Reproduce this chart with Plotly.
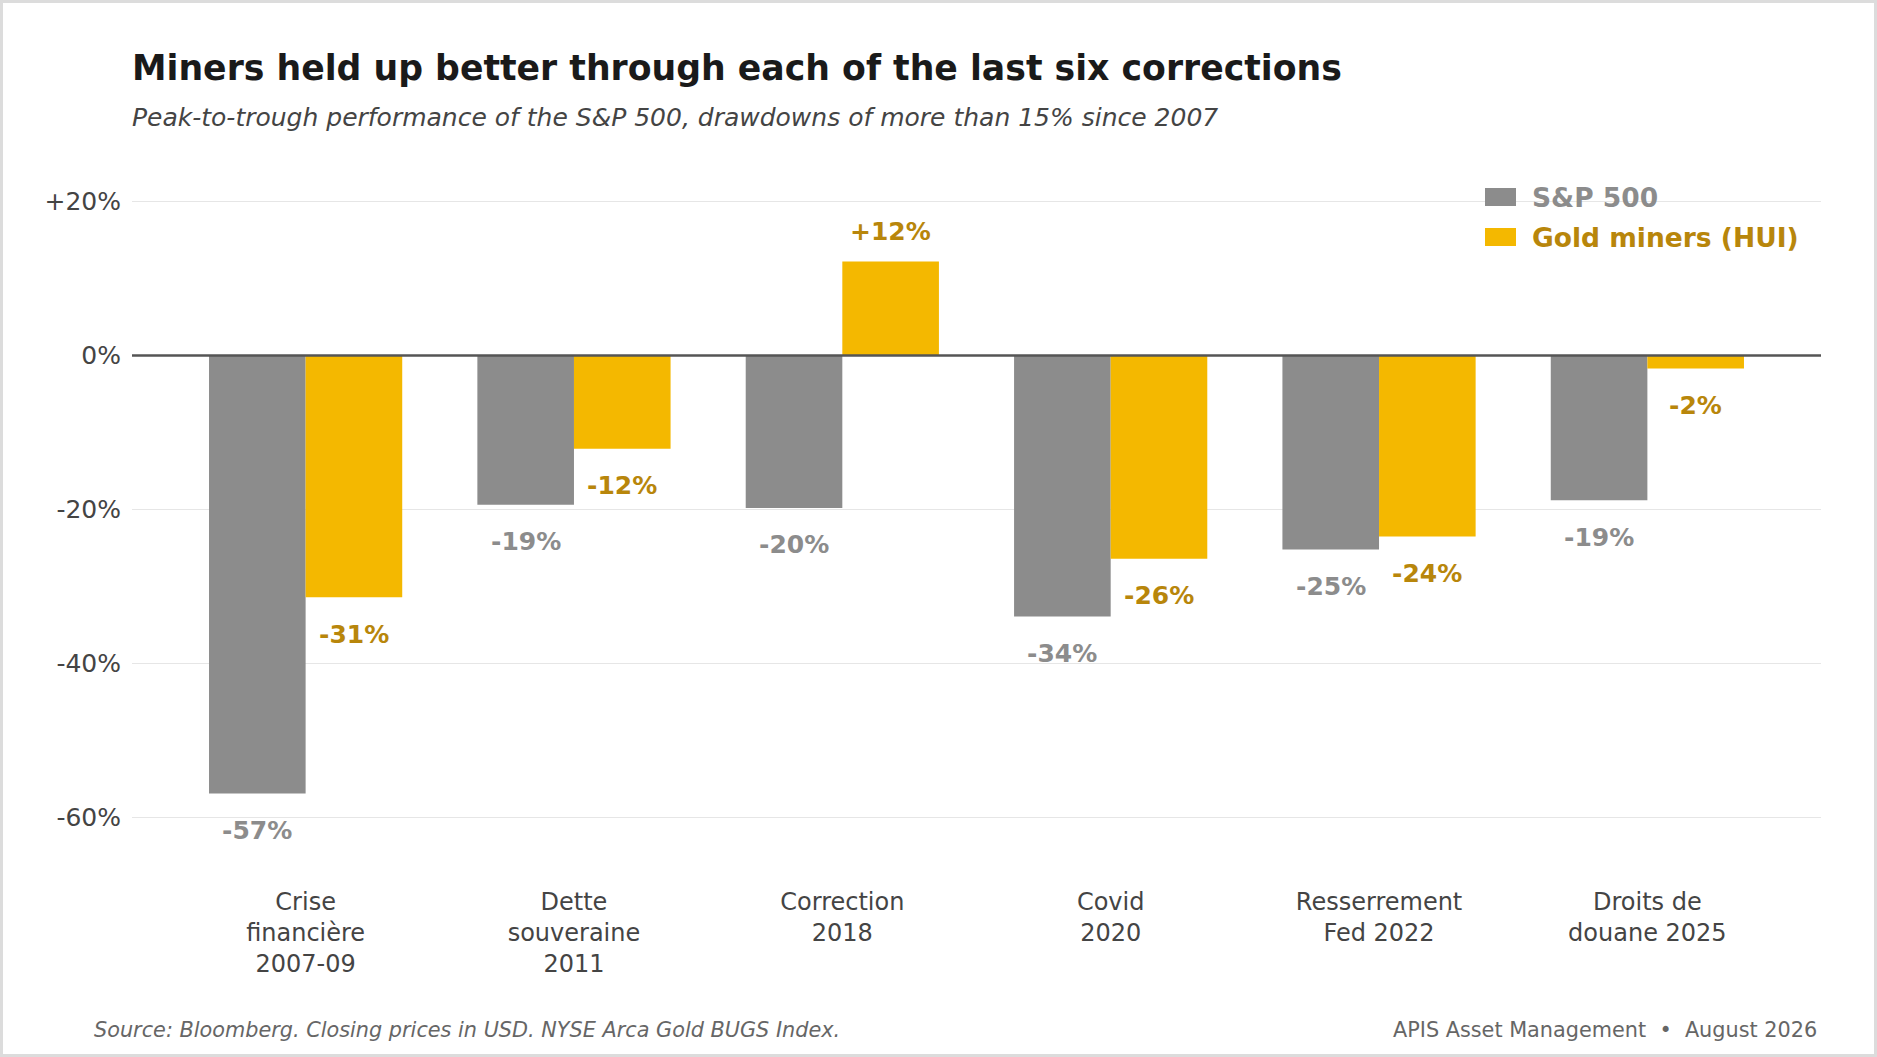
import plotly.graph_objects as go

# Drawdown episodes (x categories)
categories = [
    "Crise<br>financière<br>2007-09",
    "Dette<br>souveraine<br>2011",
    "Correction<br>2018",
    "Covid<br>2020",
    "Resserrement<br>Fed 2022",
    "Droits de<br>douane 2025",
]
# Peak-to-trough performance, %
sp500 = [-56.9, -19.4, -19.8, -33.9, -25.2, -18.8]
hui = [-31.4, -12.1, 12.2, -26.4, -23.5, -1.7]

y_ticks = [20, 0, -20, -40, -60]
y_tick_labels = ["+20%", "0%", "-20%", "-40%", "-60%"]

GREY = "#8c8c8c"
GOLD = "#f4b800"
GOLD_TXT = "#b8860b"
FONT = "DejaVu Sans"

W, H = 1877, 1057
ML, MR, MT, MB = 132, 56, 163, 178
PW = W - ML - MR
PH = H - MT - MB
BARGAP = 0.28


def px_x(x):
    return (x - ML) / PW


def px_y(y):
    return 1 + (MT - y) / PH


def pct(v):
    return f"{v:+.0f}%" if v > 0 else f"{v:.0f}%"


fig = go.Figure()
fig.add_trace(go.Bar(x=categories, y=sp500, name="S&P 500", marker=dict(color=GREY, line_width=0)))
fig.add_trace(go.Bar(x=categories, y=hui, name="Gold miners (HUI)", marker=dict(color=GOLD, line_width=0)))

# value labels under / above each bar
half = (1 - BARGAP) / 4
annos = []
for i, (a, b) in enumerate(zip(sp500, hui)):
    for xoff, v, col in ((-half, a, GREY), (half, b, GOLD_TXT)):
        annos.append(dict(
            x=i + xoff, y=v, xref="x", yref="y", text=f"<b>{pct(v)}</b>",
            showarrow=False, xanchor="center", yanchor="middle",
            yshift=30 if v > 0 else -37,
            font=dict(family=FONT, size=25, color=col),
        ))

# title, subtitle, footer
annos.append(dict(x=px_x(130), y=px_y(68), xref="paper", yref="paper", xanchor="left", yanchor="middle",
                  text="<b>Miners held up better through each of the last six corrections</b>",
                  showarrow=False, font=dict(family=FONT, size=34.7, color="#1a1a1a")))
annos.append(dict(x=px_x(130), y=px_y(117), xref="paper", yref="paper", xanchor="left", yanchor="middle",
                  text="<i>Peak-to-trough performance of the S&P 500, drawdowns of more than 15% since 2007</i>",
                  showarrow=False, font=dict(family=FONT, size=25, color="#444444")))
annos.append(dict(x=px_x(92), y=px_y(1030), xref="paper", yref="paper", xanchor="left", yanchor="middle",
                  text="<i>Source: Bloomberg. Closing prices in USD. NYSE Arca Gold BUGS Index.</i>",
                  showarrow=False, font=dict(family=FONT, size=20.8, color="#666666")))
annos.append(dict(x=px_x(1819), y=px_y(1030), xref="paper", yref="paper", xanchor="right", yanchor="middle",
                  text="APIS Asset Management  •  August 2026",
                  showarrow=False, font=dict(family=FONT, size=20.8, color="#666666")))

# legend drawn by hand (wide swatches)
shapes = []
for yc, name, col, tcol in ((197, "S&P 500", GREY, GREY), (237, "Gold miners (HUI)", GOLD, GOLD_TXT)):
    shapes.append(dict(type="rect", xref="paper", yref="paper", x0=px_x(1485), x1=px_x(1516),
                       y0=px_y(yc + 9), y1=px_y(yc - 9), fillcolor=col, line_width=0, layer="above"))
    annos.append(dict(x=px_x(1530), y=px_y(yc), xref="paper", yref="paper", xanchor="left", yanchor="middle",
                      text=f"<b>{name}</b>", showarrow=False, font=dict(family=FONT, size=26.5, color=tcol)))

# zero baseline above the bars
shapes.append(dict(type="line", xref="paper", yref="y", x0=0, x1=1, y0=0, y1=0,
                   line=dict(color="#555555", width=2.4), layer="above"))

# thin frame around the whole figure
shapes.append(dict(type="rect", xref="paper", yref="paper", x0=px_x(1.5), x1=px_x(W - 1.5),
                   y0=px_y(H - 1.5), y1=px_y(1.5), line=dict(color="#dcdcdc", width=3), layer="below"))

fig.update_layout(
    width=W, height=H,
    margin=dict(l=ML, r=MR, t=MT, b=MB),
    barmode="group", bargap=BARGAP, bargroupgap=0,
    plot_bgcolor="white", paper_bgcolor="white",
    showlegend=False,
    annotations=annos, shapes=shapes,
    font=dict(family=FONT, color="#444444"),
)
fig.update_xaxes(range=[-0.647, 5.647], showgrid=False, showline=False, ticks="",
                 ticklabelstandoff=6,
                 tickfont=dict(family=FONT, size=24, color="#444444"))
fig.update_yaxes(range=[-68, 25], tickvals=y_ticks, ticktext=y_tick_labels,
                 showgrid=True, gridcolor="#e6e6e6", gridwidth=1.2, zeroline=False,
                 showline=False, ticks="", ticklabelstandoff=10,
                 tickfont=dict(family=FONT, size=25, color="#444444"))

fig.write_html("out.html", config={"displayModeBar": False},
               post_script="document.body.style.margin='0';")
